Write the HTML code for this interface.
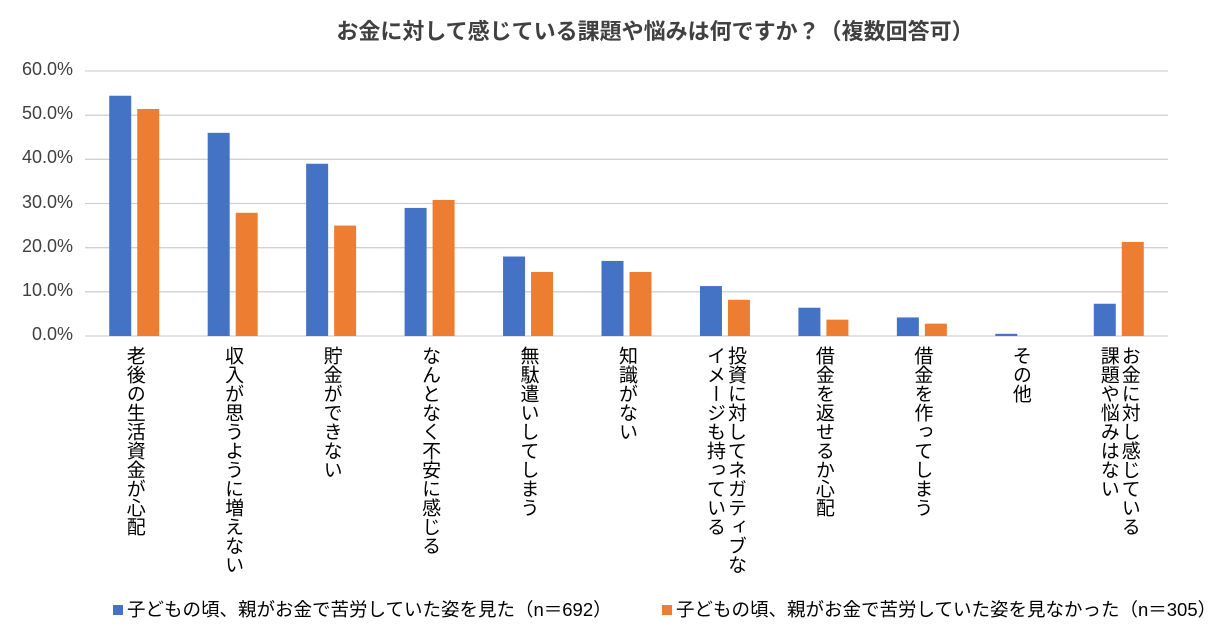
<!DOCTYPE html>
<html><head><meta charset="utf-8">
<style>
body{margin:0;width:1217px;height:638px;background:#fff;font-family:"Liberation Sans","Noto Sans CJK JP",sans-serif;color:#404040;overflow:hidden;position:relative}
.title{position:absolute;top:14px;left:0;width:1310px;text-align:center;font-size:22px;font-weight:bold;color:#404040}
.yt{position:absolute;left:0;width:73px;text-align:right;font-size:18px}
.xl{position:absolute;top:346px;writing-mode:vertical-rl;font-size:19px;line-height:21px;color:#000;white-space:nowrap}
.legend{position:absolute;top:596px;font-size:18.5px;color:#000;white-space:nowrap}
.sw{display:inline-block;width:10px;height:10px;margin-right:4px;vertical-align:1px}
</style></head><body>
<div class="title">お金に対して感じている課題や悩みは何ですか？（複数回答可）</div>
<svg id="chart" width="1217" height="638" style="position:absolute;left:0;top:0"></svg>
<div id="labels"></div>
<div class="legend" style="left:113px"><span class="sw" style="background:#4472c4"></span>子どもの頃、親がお金で苦労していた姿を見た（n＝692）</div>
<div class="legend" style="left:662px"><span class="sw" style="background:#ed7d31"></span>子どもの頃、親がお金で苦労していた姿を見なかった（n＝305）</div>
<script>
const categories=["老後の生活資金が心配","収入が思うように増えない","貯金ができない","なんとなく不安に感じる","無駄遣いしてしまう","知識がない","投資に対してネガティブな<br>イメージも持っている","借金を返せるか心配","借金を作ってしまう","その他","お金に対し感じている<br>課題や悩みはない"];
const sawValues=[54.4,46.0,39.0,29.0,18.0,17.0,11.3,6.4,4.2,0.5,7.3];
const notSawValues=[51.4,27.9,25.0,30.8,14.5,14.5,8.2,3.7,2.8,0.0,21.3];
const yTicks=[0,10,20,30,40,50,60];
const L=85,R=1168,T=71,B=336,MAX=60;
const bw=(R-L)/categories.length;
const y=v=>B-(v/MAX)*(B-T);
const xc=i=>L+bw*(i+0.5);
const svg=document.getElementById('chart');
const NS='http://www.w3.org/2000/svg';
yTicks.forEach(t=>{
  const ln=document.createElementNS(NS,'line');
  ln.setAttribute('x1',L);ln.setAttribute('x2',R);ln.setAttribute('y1',y(t));ln.setAttribute('y2',y(t));
  ln.setAttribute('stroke','#d0d0d0');ln.setAttribute('stroke-width','1.3');
  
  
  svg.appendChild(ln);
  const d=document.createElement('div');d.className='yt';d.style.top=(y(t)-12)+'px';d.textContent=t.toFixed(1)+'%';
  
  
  document.body.appendChild(d);
});
function bar(x,v,c,n){
  const r=document.createElementNS(NS,'rect');
  r.setAttribute('x',x);r.setAttribute('width',22);r.setAttribute('y',y(v));r.setAttribute('height',B-y(v));r.setAttribute('fill',c);
  
  
  svg.appendChild(r);
}
categories.forEach((c,i)=>{
  bar(xc(i)-25,sawValues[i],'#4472c4','bar-saw');
  bar(xc(i)+3,notSawValues[i],'#ed7d31','bar-not-saw');
  const d=document.createElement('div');d.className='xl';d.innerHTML=c;
  const cols=c.includes('<br>')?2:1;
  d.style.left=(xc(i)-cols*10.5)+'px';
  
  
  document.getElementById('labels').appendChild(d);
});
</script>
</body></html>
